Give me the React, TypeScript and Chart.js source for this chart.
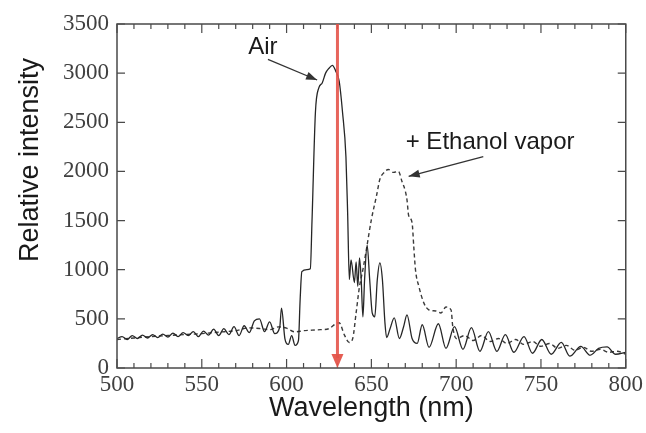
import React, { useEffect, useRef } from "react";
import { Chart, registerables } from "chart.js";

Chart.register(...registerables);

// ---- Data ----
const airWavelength = [
  500, 503, 506, 509, 512, 515, 518, 521, 524, 527, 530, 533, 536, 539, 542, 545, 548, 551, 554, 557,
  560, 563, 566, 569, 572, 575, 578, 581, 584, 587, 590, 593, 596, 597, 599, 601, 603, 605, 607, 608,
  609, 612, 614, 615, 617, 619, 621, 623, 625, 627, 629, 631, 633, 635, 636, 637, 638, 640, 641, 642,
  643, 644, 645, 646, 647.5, 649, 650.5, 652, 653.5, 655, 656.5, 658, 659, 661, 663.5, 666.5, 669, 671, 674, 677,
  680, 684, 689.5, 694, 699, 704, 709, 714, 719, 724, 729, 734, 740, 745, 750.5, 756, 762, 767, 773.5, 779,
  784, 789, 794, 800,
];
const airIntensity = [
  300, 320, 290, 330, 300, 335, 305, 340, 310, 345, 315, 355, 320, 360, 330, 370, 320, 375, 335, 395,
  330, 400, 340, 420, 330, 430, 360, 480, 500, 370, 470, 350, 420, 610, 300, 240, 330, 230, 280, 700,
  980, 1000, 1010, 1500, 2600, 2850, 2900, 3000, 3050, 3080, 3020, 2920, 2600, 2150, 1580, 900, 1100, 870, 1080, 830,
  1120, 900, 520, 900, 1250, 900, 560, 520, 900, 1070, 900, 460, 310, 400, 510, 300, 420, 540, 300, 250,
  440, 210, 450, 200, 420, 190, 410, 170, 370, 170, 340, 160, 320, 150, 290, 140, 260, 120, 220, 130,
  200, 215, 140, 160,
];

const ethanolWavelength = [
  500, 510, 520, 530, 540, 550, 560, 570, 578, 585, 590, 595, 600, 605, 610, 615, 620, 625, 629, 631,
  634, 637, 639, 641, 643, 645, 647, 650, 653, 655, 657, 660, 663, 666, 668, 670, 671, 672, 674, 675,
  676, 678, 681, 684, 688, 691, 694, 697, 698, 700, 705, 710, 715, 720, 725, 730, 735, 740, 745, 750,
  755, 760, 765, 770, 775, 780, 785, 790, 795, 800,
];
const ethanolIntensity = [
  290, 305, 320, 330, 340, 350, 365, 380, 408, 400, 390, 418, 405, 367, 380, 385, 390, 400, 450, 460,
  340, 260, 300, 560, 830, 1000, 1200, 1510, 1750, 1920, 1980, 2020, 1990, 2000, 1900, 1800, 1710, 1550, 1480, 1235,
  1000, 830, 660, 590, 580, 560, 620, 590, 420, 300, 330, 280, 330, 270, 300, 250, 290, 240, 270, 220,
  250, 200, 230, 180, 210, 170, 190, 160, 170, 140,
];

const xTickValues = [500, 550, 600, 650, 700, 750, 800];
const yTickValues = [0, 500, 1000, 1500, 2000, 2500, 3000, 3500];
const xMinorStep = 10;
const laserWavelength = 630;

const xTitle = "Wavelength (nm)";
const yTitle = "Relative intensity";
const airLabel = "Air";
const ethanolLabel = "+ Ethanol vapor";
// annotation anchor points in data units [wavelength, intensity]
const airTextPos = [586, 3265];
const airArrow = [[589, 3140], [618, 2930]];
const ethTextPos = [720, 2300];
const ethArrow = [[716, 2150], [672, 1950]];

function drawArrowHead(ctx: CanvasRenderingContext2D, x1: number, y1: number, x2: number, y2: number, len: number, wid: number) {
  const ang = Math.atan2(y2 - y1, x2 - x1);
  ctx.beginPath();
  ctx.moveTo(x2, y2);
  ctx.lineTo(x2 - len * Math.cos(ang) + wid * Math.sin(ang), y2 - len * Math.sin(ang) - wid * Math.cos(ang));
  ctx.lineTo(x2 - len * Math.cos(ang) - wid * Math.sin(ang), y2 - len * Math.sin(ang) + wid * Math.cos(ang));
  ctx.closePath();
  ctx.fill();
}

const decorPlugin = {
  id: "decor",
  afterDatasetsDraw(chart: any) {
    const { ctx, chartArea, scales } = chart;
    const { left, right, top, bottom } = chartArea;
    const x = scales.x;
    const y = scales.y;
    ctx.save();
    // frame
    ctx.strokeStyle = "#4a4a4a";
    ctx.lineWidth = 1.5;
    ctx.strokeRect(left, top, right - left, bottom - top);
    // x ticks (inward, bottom and top)
    ctx.lineWidth = 1.2;
    const xmin = x.min, xmax = x.max;
    for (let v = xmin; v <= xmax + 0.001; v += xMinorStep) {
      const px = x.getPixelForValue(v);
      const major = xTickValues.includes(v);
      const len = major ? 9 : 5;
      ctx.beginPath();
      ctx.moveTo(px, bottom);
      ctx.lineTo(px, bottom - len);
      ctx.moveTo(px, top);
      ctx.lineTo(px, top + len);
      ctx.stroke();
    }
    for (const v of yTickValues) {
      const py = y.getPixelForValue(v);
      ctx.beginPath();
      ctx.moveTo(left, py);
      ctx.lineTo(left + 8, py);
      ctx.moveTo(right, py);
      ctx.lineTo(right - 8, py);
      ctx.stroke();
    }

    // laser line (red arrow)
    const lx = x.getPixelForValue(laserWavelength);
    const ly0 = y.getPixelForValue(y.max);
    const ly1 = y.getPixelForValue(y.min);
    ctx.strokeStyle = "rgba(228, 84, 74, 0.9)";
    ctx.fillStyle = "rgba(228, 84, 74, 0.95)";
    ctx.lineWidth = 3;
    ctx.beginPath();
    ctx.moveTo(lx, ly0);
    ctx.lineTo(lx, ly1 - 10);
    ctx.stroke();
    ctx.beginPath();
    ctx.moveTo(lx, ly1);
    ctx.lineTo(lx - 6, ly1 - 14);
    ctx.lineTo(lx + 6, ly1 - 14);
    ctx.closePath();
    ctx.fill();

    // annotations
    ctx.fillStyle = "#1a1a1a";
    ctx.strokeStyle = "#333";
    ctx.lineWidth = 1.3;
    ctx.font = "24px 'Liberation Sans', Arial, sans-serif";
    ctx.textAlign = "center";
    ctx.textBaseline = "middle";
    ctx.fillText(airLabel, x.getPixelForValue(airTextPos[0]), y.getPixelForValue(airTextPos[1]));
    ctx.fillText(ethanolLabel, x.getPixelForValue(ethTextPos[0]), y.getPixelForValue(ethTextPos[1]));
    const arrows = [airArrow, ethArrow];
    for (const a of arrows) {
      const x1 = x.getPixelForValue(a[0][0]);
      const y1 = y.getPixelForValue(a[0][1]);
      const x2 = x.getPixelForValue(a[1][0]);
      const y2 = y.getPixelForValue(a[1][1]);
      ctx.beginPath();
      ctx.moveTo(x1, y1);
      ctx.lineTo(x2, y2);
      ctx.stroke();
      ctx.fillStyle = "#333";
      drawArrowHead(ctx, x1, y1, x2, y2, 11, 4);
    }

    // axis titles
    ctx.fillStyle = "#1a1a1a";
    ctx.font = "27px 'Liberation Sans', Arial, sans-serif";
    ctx.textAlign = "center";
    ctx.textBaseline = "middle";
    ctx.fillText(xTitle, (left + right) / 2, 409);
    ctx.save();
    ctx.translate(31, 160);
    ctx.rotate(-Math.PI / 2);
    ctx.fillText(yTitle, 0, 0);
    ctx.restore();
    ctx.restore();
  },
};

export default function App() {
  const canvasRef = useRef<HTMLCanvasElement | null>(null);

  useEffect(() => {
    if (!canvasRef.current) return;
    const airData = airWavelength.map((w, i) => ({ x: w, y: airIntensity[i] }));
    const ethData = ethanolWavelength.map((w, i) => ({ x: w, y: ethanolIntensity[i] }));
    const tickFont = { family: "'Liberation Serif', 'Times New Roman', serif", size: 23 };
    const chart = new Chart(canvasRef.current, {
      type: "line",
      data: {
        datasets: [
          {
            label: "Air",
            data: airData,
            borderColor: "#262626",
            borderWidth: 1.3,
            pointRadius: 0,
            cubicInterpolationMode: "monotone",
            fill: false,
          },
          {
            label: "+ Ethanol vapor",
            data: ethData,
            borderColor: "#3a3a3a",
            borderWidth: 1.4,
            borderDash: [4, 3],
            pointRadius: 0,
            cubicInterpolationMode: "monotone",
            fill: false,
          },
        ],
      },
      options: {
        animation: false,
        responsive: false,
        maintainAspectRatio: false,
        layout: { padding: { top: 24, right: 19, left: 0, bottom: 0 } },
        plugins: { legend: { display: false }, tooltip: { enabled: false } },
        scales: {
          x: {
            type: "linear",
            min: 500,
            max: 800,
            afterBuildTicks: (scale: any) => {
              scale.ticks = xTickValues.map((v) => ({ value: v }));
            },
            afterFit: (scale: any) => {
              scale.height = 65;
            },
            grid: { display: false, drawTicks: false },
            border: { display: false },
            ticks: {
              padding: 3,
              color: "#404040",
              font: tickFont,
              maxRotation: 0,
              autoSkip: false,
              callback: (v: any) => String(v),
            },
          },
          y: {
            type: "linear",
            min: 0,
            max: 3500,
            afterBuildTicks: (scale: any) => {
              scale.ticks = yTickValues.map((v) => ({ value: v }));
            },
            afterFit: (scale: any) => {
              scale.width = 117;
            },
            grid: { display: false, drawTicks: false },
            border: { display: false },
            ticks: {
              padding: 8,
              color: "#404040",
              font: tickFont,
              autoSkip: false,
              callback: (v: any) => String(v),
            },
          },
        },
      },
      plugins: [decorPlugin],
    });
    return () => chart.destroy();
  }, []);

  return (
    <div style={{ position: "fixed", left: 0, top: 0, width: 646, height: 433, background: "#fff" }}>
      <canvas ref={canvasRef} width={646} height={433} style={{ width: 646, height: 433 }} />
    </div>
  );
}
